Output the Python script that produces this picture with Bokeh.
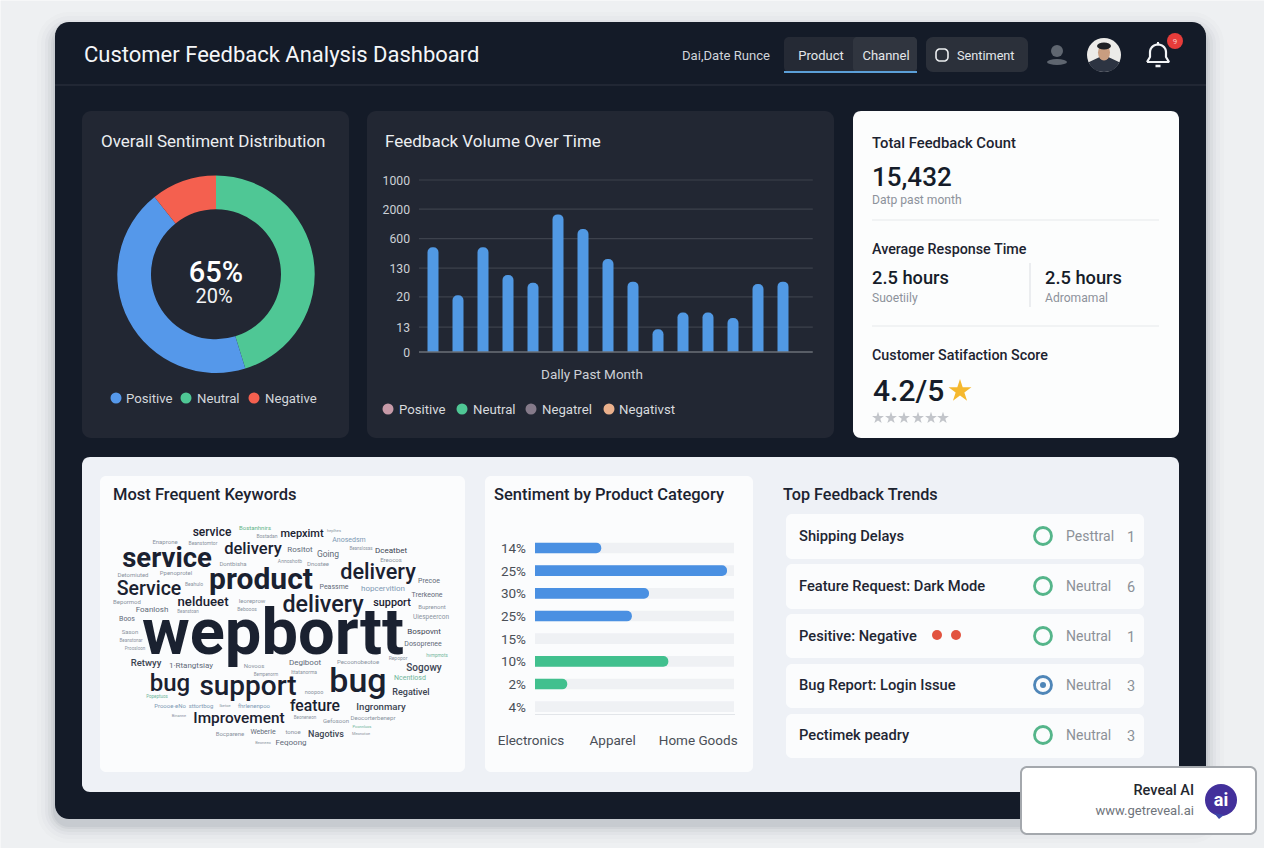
import numpy as np
from bokeh.core.properties import value
from bokeh.embed import file_html
from bokeh.resources import INLINE
from bokeh.plotting import figure
from bokeh.models import Range1d, LinearAxis, FixedTicker

# ---------- data ----------
SENTIMENT_LABELS = ["Neutral", "Positive", "Negative"]
SENTIMENT_SHARES = [45.2, 44.1, 10.7]
SENTIMENT_COLORS = ["#4fc795", "#5598ea", "#f4604f"]

DAYS = list(range(1, 16))
DAILY_VOLUME = [609, 330, 609, 448, 403, 800, 715, 541, 409, 132, 229, 229, 198, 395, 409]
VOLUME_TICKS = [1000, 831, 659, 488, 320, 145, 0]
VOLUME_TICK_LABELS = ["1000", "2000", "600", "130", "20", "13", "0"]

CATEGORY_ROWS = [1, 2, 3, 4, 5, 6, 7, 8]
CATEGORY_ROW_LABELS = ["14%", "25%", "30%", "25%", "15%", "10%", "2%", "4%"]
CATEGORY_FILL = [33.3, 96.5, 57.3, 48.7, 0, 67, 16.2, 0]
CATEGORY_GROUP = ["blue", "blue", "blue", "blue", "blue", "green", "green", "green"]
CATEGORY_NAMES = ["Electronics", "Apparel", "Home Goods"]
CATEGORY_NAME_TICKS = [-2, 39, 82]

TREND_LABELS = ["Shipping Delays", "Feature Request: Dark Mode", "Pesitive: Negative",
                "Bug Report: Login Issue", "Pectimek peadry"]
TREND_STATUS = ["Pesttral", "Neutral", "Neutral", "Neutral", "Neutral"]
TREND_COUNT = ["1", "6", "1", "3", "3"]

KEYWORDS = ["service", "Bostanhnirs", "mepximt", "heplhes", "Bostadan", "Anosedsm", "Enaprone", "Beanstomtor",
            "delivery", "service", "Rosltot", "Going", "Beanslosas", "Dceatbet", "Ereocos", "Dontbisha",
            "Annoshotb", "Dnostee", "product", "delivery", "Detomiuted", "Ppenoprotel", "Service", "Beahulo",
            "Peassme", "hopcervition", "Precoe", "Trerkeone", "Ieoreprow", "neldueet", "delivery", "support",
            "Bepormod", "Foanlosh", "Beanstoan", "Bebooos", "Buprenont", "Boos", "Uiespeercon", "Sason",
            "Bospovnt", "Beanstonar", "wepbortt", "Dosoprenee", "Proosloon", "Retwyy", "1·Rtangtsiay", "Novoos",
            "Degiboot", "Pecoonobeotoe", "Repopor", "hvmpmots", "Sogowy", "Bempenorm", "Ittatanorma", "bug",
            "support", "bug", "Ncentiosd", "Regativel", "noopoo", "Popeptuos", "feature", "Ingronmary",
            "Proooe·eNo", "sttortbog", "Ibetoe", "fhrlenenpoo", "Binanne", "Improvement", "Beoneneon", "Gefosoon",
            "Deocorterbenepr", "Pconnluos", "Bocparene", "Weberie", "tonoe", "Nagotivs", "Meonotoe", "Beoneeo",
            "Feqoong"]

# ---------- layout and style (page pixels) ----------
D, M, G, B, T, L = "#1a2130", "#3b4452", "#5f6a78", "#7d99b4", "#6fb59a", "#8a93a0"
cloud_x = [212,255,302,334,267,349,165,203,253,167,300,328,361,391,391,233,290,318,261,378,133,176,149,194,
           334,383,429,427,252,203,323,392,127,152,188,247,432,127,431,130,424,131,273,423,135,146,191,254,
           305,358,398,437,424,266,304,170,248,358,410,411,314,157,315,381,170,201,225,254,179,239,305,336,
           373,362,230,263,293,326,361,263,291]
cloud_y = [532,527,533,530,536,540,541,543,548,557,549,554,548,550,559,563,561,563,578,571,574,572,588,584,
           587,588,581,595,600,601,604,602,601,609,611,609,606,619,617,631,631,640,632,644,648,662,665,665,
           662,661,658,655,667,674,672,683,685,680,678,692,692,696,705,706,705,705,705,705,715,718,717,720,
           717,726,733,732,731,734,733,742,742]
cloud_s = [12,6,11,4,5,7,6,5,16.5,27.5,8,8.5,4.5,8,6,6,5,6,30,21.7,6,6,19.5,5,7,8,7,7,6,13.2,23.3,10.8,6,8,4.5,5,6,7,6.5,6,8,
           4.5,65,7,4.5,9.5,8,6,8,6,5,4.5,10,4.5,5,24,28,34,7,9,5.5,4.5,15.7,9.6,6,6,4,6,4,15.4,4.5,6,6,4,6,7,6,9,4,4,8]
heavy = {"wepbortt", "product"}
big_medium = {"service", "delivery", "Service", "neldueet", "support", "bug", "feature", "Improvement", "mepximt"}
cloud_c = []
for w, s in zip(KEYWORDS, cloud_s):
    if s >= 11 or w in big_medium:
        cloud_c.append(D)
    elif w == "Bostanhnirs":
        cloud_c.append("#62b487")
    elif w in ("Anosedsm", "hopcervition", "Proooe·eNo", "sttortbog", "fhrlenenpoo"):
        cloud_c.append(B)
    elif w in ("Ncentiosd", "hvmpmots", "Pconnluos", "Popeptuos"):
        cloud_c.append(T)
    elif w in ("Retwyy", "Sogowy", "Regativel", "Ingronmary", "Nagotivs", "Dceatbet", "Bospovnt"):
        cloud_c.append(M)
    elif s >= 7:
        cloud_c.append(G)
    else:
        cloud_c.append(L)

BG = "#eef0f2"
CARD = "#141b28"
PANEL = "#222733"
FONT = "Roboto"
MEDIUM = "bold italic"   # rewritten to weight 500 in the written page
X0, X1, Y0, Y1 = 0.5, 1264.5, 0.5, 848.5

p = figure(width=1264, height=848, output_backend="svg", toolbar_location=None,
           x_range=Range1d(X0, X1), y_range=Range1d(Y1, Y0),
           x_axis_type=None, y_axis_type=None, min_border=0, outline_line_color=None,
           background_fill_color=BG, border_fill_color=BG)
p.grid.visible = False


def rng(px_a, v_a, px_b, v_b, first, last):
    """Range whose ends land on the frame edges so that v_a/v_b sit at px_a/px_b."""
    k = (v_b - v_a) / (px_b - px_a)
    return Range1d(v_a + (first - px_a) * k, v_a + (last - px_a) * k)


def rr(x0, y0, x1, y1, r):
    xs, ys = [], []
    for cx, cy, a in ((x1 - r, y0 + r, -90), (x1 - r, y1 - r, 0), (x0 + r, y1 - r, 90), (x0 + r, y0 + r, 180)):
        t = np.radians(np.linspace(a, a + 90, 9))
        xs += list(cx + r * np.cos(t))
        ys += list(cy + r * np.sin(t))
    return xs, ys


def box(x0, y0, x1, y1, r, fill, line=None, lw=1, alpha=1.0):
    xs, ys = rr(x0, y0, x1, y1, r)
    p.patch(xs, ys, fill_color=fill, fill_alpha=alpha, line_color=line, line_width=lw)


def txt(x, y, s, size, color, style="normal", align="left"):
    p.text([x], [y], text=[s], text_font=value(FONT), text_font_size=f"{size}px", text_color=color,
           text_align=align, text_baseline="middle", text_font_style=style)


def dot(x, y, r, fill, line=None, lw=1):
    p.circle([x], [y], radius=r, radius_units="screen", fill_color=fill, line_color=line, line_width=lw)


# shadow + main card
for k, a in ((18, .015), (14, .02), (10, .03), (7, .04), (4, .05), (2, .06)):
    box(55 - k, 22 - k + 8, 1206 + k, 819 + k + 6, 14 + k, "#3a4250", alpha=a)
box(55, 22, 1206, 819, 14, CARD)
p.segment([55], [85], [1206], [85], line_color="#262c39", line_width=1.5)

# header
txt(84, 54, "Customer Feedback Analysis Dashboard", 22, "#f4f6f8")
txt(682, 55, "Dai,Date Runce", 13.1, "#d0d4da")
box(784, 37, 917, 72, 5, "#252a35")
box(853, 37, 917, 72, 4, "#30353f")
p.segment([784], [72], [917], [72], line_color="#5b9fd8", line_width=2)
txt(821, 55, "Product", 13, "#e4e7ea", align="center")
txt(886, 55, "Channel", 13, "#e4e7ea", align="center")
box(926, 37, 1028, 72, 7, "#2b303a")
box(936, 49, 948, 61, 4, None, "#eceef0", 1.6)
txt(957, 55, "Sentiment", 12.7, "#e4e7ea")
dot(1057, 51, 6, "#5f6670")
p.ellipse([1057], [62], width=20, height=6, fill_color="#5f6670", line_color=None)
dot(1104, 55, 17, "#ecebe8")
p.wedge([1104], [55], radius=17, radius_units="screen", start_angle=np.radians(205), end_angle=np.radians(335),
        fill_color="#2d3442", line_color=None)
p.ellipse([1104], [52.5], width=12, height=16, fill_color="#c89d80", line_color=None)
p.ellipse([1104], [46], width=14, height=7, fill_color="#1e2024", line_color=None)
# bell
t = np.linspace(np.pi, 2 * np.pi, 15)
bx = [1147, 1150] + list(1158 + 8 * np.cos(t)) + [1166, 1169, 1147]
by = [62, 57] + list(52 + 7.5 * np.sin(t)) + [57, 62, 62]
p.line(bx, by, line_color="#f2f4f6", line_width=2.2)
p.line([1158, 1158], [42, 45], line_color="#f2f4f6", line_width=2)
p.line([1155.5, 1160.5], [66, 66], line_color="#f2f4f6", line_width=2.5)
dot(1175, 41, 8, "#e63c3a")
txt(1175, 41, "9", 8, "#f6c8c4", align="center")

# panels
box(82, 111, 349, 438, 9, PANEL)
box(367, 111, 834, 438, 9, PANEL)
box(853, 111, 1179, 438, 8, "#fcfdfd")
box(82, 457, 1179, 792, 8, "#eef1f6")
box(100, 476, 465, 772, 6, "#fbfcfd")
box(485, 476, 753, 772, 6, "#fbfcfd")

# ---------- donut ----------
txt(101, 141, "Overall Sentiment Distribution", 17, "#eceef1")
edges = np.cumsum([0] + SENTIMENT_SHARES) / 100 * 2 * np.pi
for i, c in enumerate(SENTIMENT_COLORS):
    p.annular_wedge([216], [274.3], inner_radius=65, outer_radius=98.7, inner_radius_units="screen",
                    outer_radius_units="screen", start_angle=np.pi / 2 - edges[i], end_angle=np.pi / 2 - edges[i + 1],
                    direction="clock", fill_color=c, line_color=None)
txt(216, 272, "65%", 29, "#ffffff", MEDIUM, "center")
txt(214, 296, "20%", 20, "#f2f3f5", "normal", "center")
for x, lx, c, s in ((116, 126, "#5598ea", "Positive"), (186, 197, "#4fc795", "Neutral"), (254, 265, "#f4604f", "Negative")):
    dot(x, 398, 5.5, c)
    txt(lx, 398, s, 13.2, "#d3d6db")

# ---------- volume bars ----------
txt(385, 141, "Feedback Volume Over Time", 17, "#eceef1")
p.extra_x_ranges["vol_x"] = rng(433, 1, 783, 15, X0, X1)
p.extra_y_ranges["vol_y"] = rng(352, 0, 180, 1000, Y1, Y0)
grid_ticks = VOLUME_TICKS[:-1]
p.segment(x0=[0.44] * len(grid_ticks), x1=[16.19] * len(grid_ticks), y0=grid_ticks, y1=grid_ticks,
          x_range_name="vol_x", y_range_name="vol_y", line_color="#3d424d", line_width=1.2)
p.vbar(x=DAYS, top=DAILY_VOLUME, bottom=0, width=0.44, x_range_name="vol_x", y_range_name="vol_y",
       fill_color="#5199e4", line_color=None, border_radius=(5, 5, 0, 0))
p.segment(x0=[0.44], x1=[16.19], y0=[0], y1=[0], x_range_name="vol_x", y_range_name="vol_y",
          line_color="#6b7078", line_width=1.5)
ax = LinearAxis(y_range_name="vol_y", fixed_location=417, ticker=FixedTicker(ticks=VOLUME_TICKS),
                major_label_overrides=dict(zip(VOLUME_TICKS, VOLUME_TICK_LABELS)),
                axis_line_color=None, major_tick_line_color=None, minor_tick_line_color=None,
                major_label_text_color="#ccd0d6", major_label_text_font=FONT, major_label_text_font_size="12.2px",
                major_label_standoff=1)
p.add_layout(ax, "left")
txt(592, 374, "Dally Past Month", 13.5, "#cdd0d6", "normal", "center")
for x, lx, c, s in ((388, 399, "#c79aa8", "Positive"), (462, 473, "#4fc795", "Neutral"),
                    (531, 542, "#857a8a", "Negatrel"), (609, 619, "#eab08c", "Negativst")):
    dot(x, 409, 5.5, c)
    txt(lx, 409, s, 13.2, "#d8dade")

# ---------- KPI card ----------
txt(872, 143, "Total Feedback Count", 14.8, "#1c2330", MEDIUM)
txt(872, 176, "15,432", 26, "#151c29", MEDIUM)
txt(872, 200, "Datp past month", 12.1, "#8d929b")
p.segment([872, 872], [220, 326], [1159, 1159], [220, 326], line_color="#e6e9ec", line_width=1.2)
txt(872, 249, "Average Response Time", 14.3, "#1c2330", MEDIUM)
txt(872, 277, "2.5 hours", 18.3, "#151c29", MEDIUM)
txt(872, 298, "Suoetiily", 12.1, "#8d929b")
p.segment([1030], [263], [1030], [307], line_color="#dfe3e7", line_width=1.2)
txt(1045, 277, "2.5 hours", 18.3, "#151c29", MEDIUM)
txt(1045, 298, "Adromamal", 12.1, "#8d929b")
txt(872, 355, "Customer Satifaction Score", 14.3, "#1c2330", MEDIUM)
txt(873, 390, "4.2/5", 30, "#151c29", MEDIUM)
p.scatter([960], [391], marker="star", size=24, fill_color="#f5b82e", line_color=None)
p.scatter([878, 891, 904, 918, 931, 943], [418] * 6, marker="star", size=12.5, fill_color="#c2c5ca", line_color=None)

# ---------- word cloud ----------
txt(113, 494, "Most Frequent Keywords", 16.5, "#1c2330", MEDIUM)
for w, x, y, s, c in zip(KEYWORDS, cloud_x, cloud_y, cloud_s, cloud_c):
    if w in heavy or (w == "service" and s > 20):
        st = "bold"
    elif s >= 9 or w in big_medium:
        st = MEDIUM
    else:
        st = "normal"
    txt(x, y, w, s, c, st, "center")

# ---------- category bars ----------
txt(494, 494, "Sentiment by Product Category", 16.5, "#1c2330", MEDIUM)
p.extra_x_ranges["cat_x"] = rng(535, 0, 734, 100, X0, X1)
p.extra_y_ranges["cat_y"] = rng(548, 1, 706.7, 8, Y1, Y0)
p.hbar(y=CATEGORY_ROWS, left=0, right=100, height=0.47, x_range_name="cat_x", y_range_name="cat_y",
       fill_color="#eff1f4", line_color=None)
bar_colors = ["#4a90e2" if g == "blue" else "#41c08e" for g in CATEGORY_GROUP]
fr = [r for r, v in zip(CATEGORY_ROWS, CATEGORY_FILL) if v > 0]
fv = [v for v in CATEGORY_FILL if v > 0]
fc = [c for c, v in zip(bar_colors, CATEGORY_FILL) if v > 0]
p.hbar(y=fr, left=0, right=fv, height=0.47, x_range_name="cat_x", y_range_name="cat_y",
       fill_color=fc, line_color=None, border_radius=(0, 5, 5, 0))
p.segment([535], [714.5], [735], [714.5], line_color="#e2e5e9", line_width=1)
ay = LinearAxis(y_range_name="cat_y", fixed_location=535, ticker=FixedTicker(ticks=CATEGORY_ROWS),
                major_label_overrides=dict(zip(CATEGORY_ROWS, CATEGORY_ROW_LABELS)),
                axis_line_color=None, major_tick_line_color=None, minor_tick_line_color=None,
                major_label_text_color="#4a4f57", major_label_text_font=FONT, major_label_text_font_size="13.5px",
                major_label_standoff=3)
p.add_layout(ay, "left")
ac = LinearAxis(x_range_name="cat_x", fixed_location=725, ticker=FixedTicker(ticks=CATEGORY_NAME_TICKS),
                major_label_overrides=dict(zip(CATEGORY_NAME_TICKS, CATEGORY_NAMES)),
                axis_line_color=None, major_tick_line_color=None, minor_tick_line_color=None,
                major_label_text_color="#4a4f57", major_label_text_font=FONT, major_label_text_font_size="13.5px",
                major_label_standoff=1)
p.add_layout(ac, "below")

# ---------- trends ----------
txt(783, 494, "Top Feedback Trends", 16.2, "#1c2330", MEDIUM)
rows = [(514, 559), (564, 609), (614, 658), (664, 708), (714, 758)]
for i, (y0, y1) in enumerate(rows):
    box(786, y0, 1144, y1, 6, "#fbfcfd")
    yc = [536, 586, 636, 685, 735][i]
    txt(799, yc, TREND_LABELS[i], 14.7, "#1f2633", MEDIUM)
    col = "#4f86b8" if i == 3 else "#55b58a"
    dot(1043, yc, 8.5, None, col, 2.8)
    if i == 3:
        dot(1043, yc, 3, col)
    txt(1066, yc, TREND_STATUS[i], 14, "#8c9198")
    txt(1131, yc, TREND_COUNT[i], 14.5, "#8c9198", "normal", "center")
dot(937, 635, 5, "#e2533f")
dot(956, 635, 5, "#e2533f")

# ---------- badge ----------
box(1021, 767, 1256, 834, 6, "#ffffff", "#a4a8ad", 2)
txt(1194, 790, "Reveal AI", 14.5, "#23272e", MEDIUM, "right")
txt(1194, 810, "www.getreveal.ai", 13, "#6f747b", "normal", "right")
dot(1221, 800, 16, "#43309b")
p.patch([1214, 1224, 1219], [813, 815, 819], fill_color="#3c46a8", line_color=None)
txt(1221, 799, "ai", 18, "#ffffff", "bold", "center")

html = file_html(p, INLINE, "Customer Feedback Analysis Dashboard")
html = html.replace("bold italic", "500")
open("out.html", "w").write(html)
